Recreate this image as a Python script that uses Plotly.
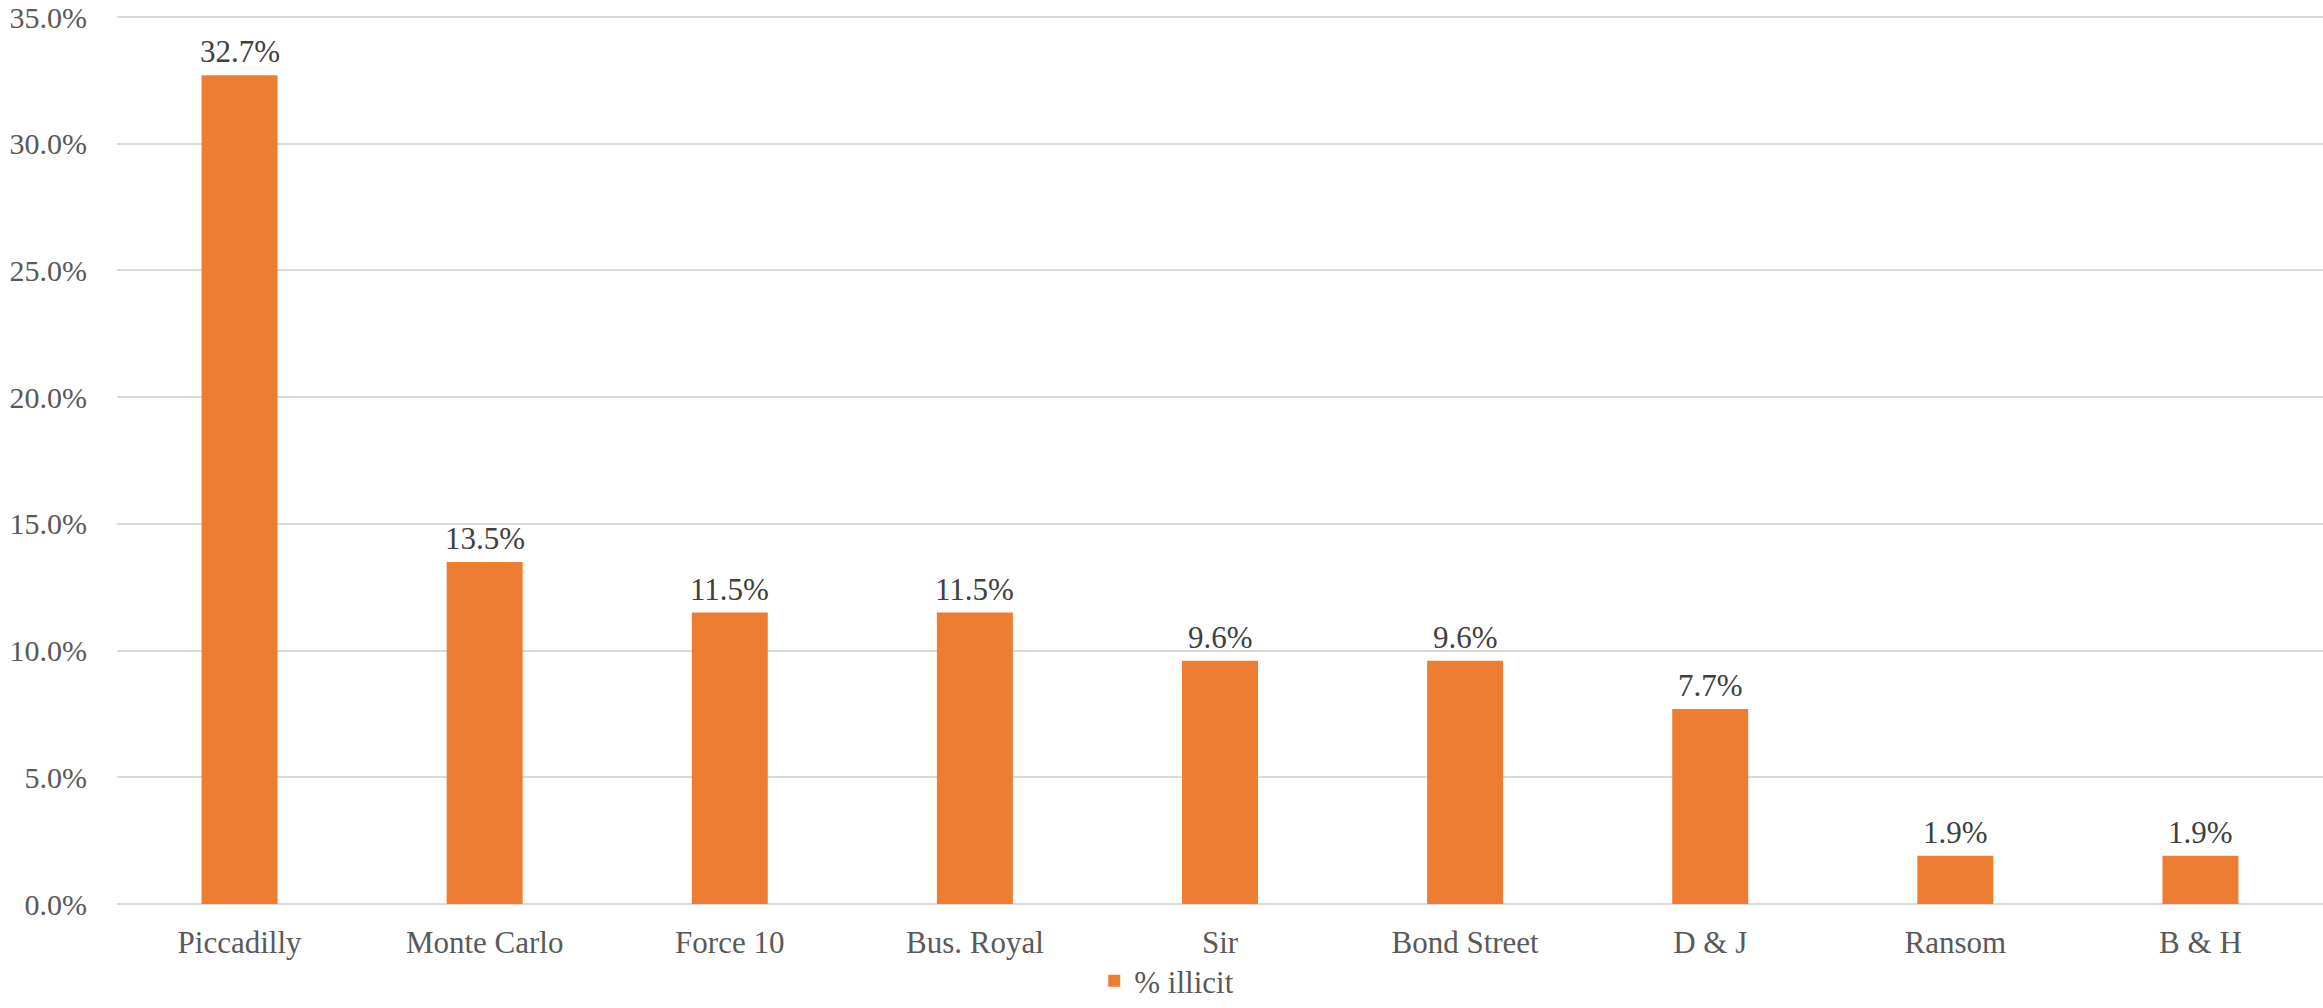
import plotly.graph_objects as go

categories = ["Piccadilly", "Monte Carlo", "Force 10", "Bus. Royal", "Sir",
              "Bond Street", "D & J", "Ransom", "B & H"]
illicit_share = [0.327, 0.135, 0.115, 0.115, 0.096, 0.096, 0.077, 0.019, 0.019]
series_name = "% illicit"
y_ticks = [0.0, 0.05, 0.10, 0.15, 0.20, 0.25, 0.30, 0.35]

FONT = "Liberation Serif, Times New Roman, serif"

fig = go.Figure()
fig.add_trace(go.Bar(
    x=categories,
    y=illicit_share,
    name=series_name,
    marker=dict(color="#ED7D31", line=dict(width=0)),
    showlegend=True,
))

for c, v in zip(categories, illicit_share):
    fig.add_annotation(
        x=c, y=v, xref="x", yref="y",
        text=f"{v * 100:.1f}%",
        showarrow=False, yanchor="bottom", yshift=4,
        font=dict(family=FONT, size=31, color="#404040"),
    )

fig.update_layout(
    width=2323, height=1008,
    margin=dict(l=117, r=0, t=12, b=104, autoexpand=False),
    paper_bgcolor="white", plot_bgcolor="white",
    bargap=0.69,
    font=dict(family=FONT, size=31, color="#595959"),
    showlegend=True,
    legend=dict(
        orientation="h", x=0.443, xanchor="left",
        yref="container", y=0.0, yanchor="bottom",
        font=dict(family=FONT, size=31, color="#595959"),
        itemwidth=30,
    ),
)
fig.update_xaxes(
    showgrid=False, showline=False, zeroline=False, automargin=False,
    tickfont=dict(family=FONT, size=31, color="#595959"),
    ticks="", ticklabelstandoff=17,
)
fig.update_yaxes(
    range=[0, 0.352], tickvals=y_ticks, tickformat=".1%", automargin=False,
    showgrid=True, gridcolor="#D9D9D9", gridwidth=1.5,
    zeroline=True, zerolinecolor="#D9D9D9", zerolinewidth=1.5,
    showline=False, ticks="", ticklabeloverflow="allow",
    tickfont=dict(family=FONT, size=30, color="#595959"),
    ticklabelstandoff=29,
)

fig.write_html("out.html")
